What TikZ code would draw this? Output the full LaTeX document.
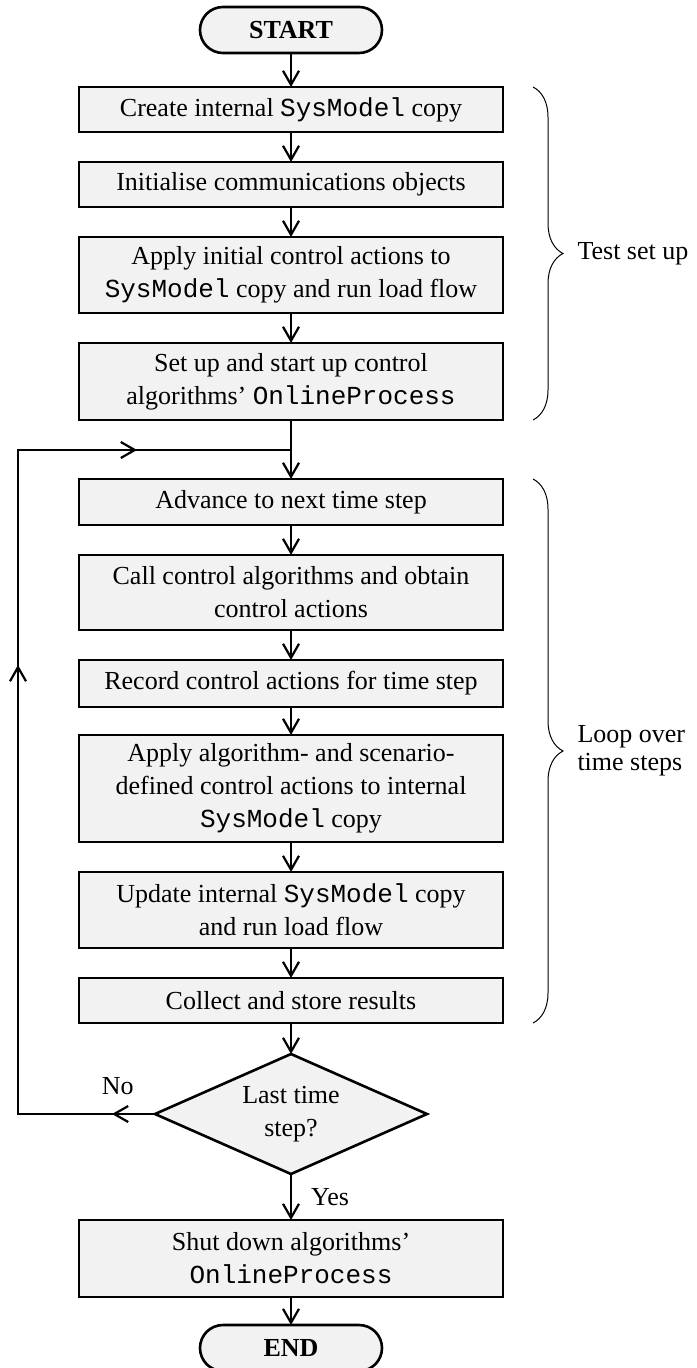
\documentclass[tikz,border=0pt]{standalone}
\usepackage{fontspec}
\setmainfont{Liberation Serif}
\setmonofont{Liberation Mono}
\usepackage{tikz}
\usetikzlibrary{positioning, arrows.meta, shapes.geometric, decorations.pathreplacing, decorations.markings}
\definecolor{boxgray}{HTML}{F2F2F2}
\tikzset{
process/.style={shape=rectangle, draw, line width=1.3pt, fill=boxgray, minimum width=212pt, minimum height=22.5pt, inner sep=2pt, outer sep=0pt, align=center, font=\fontsize{13}{16.5}\selectfont}, terminal/.style={process, rounded corners=11.5pt, minimum width=91pt, minimum height=23pt, font=\fontsize{13}{16.5}\selectfont\bfseries}, decision/.style={diamond, draw, line width=1.3pt, fill=boxgray, aspect=2.27, minimum width=136pt, minimum height=60pt, inner sep=0pt, outer sep=0pt, align=center, font=\fontsize{13}{16.5}\selectfont},
flow/.style={line width=1.1pt, -{Straight Barb[length=7pt, width=8pt]}}, textlabel/.style={inner sep=0pt, align=left, font=\fontsize{13}{14}\selectfont}, grouping/.style={decorate, decoration={brace, amplitude=15pt}, line width=0.5pt}}

\begin{document}
\begin{tikzpicture}
\useasboundingbox (0,0) rectangle (348pt,-684pt);
\node [terminal] at (145.5pt, -15pt) (start) {START};
\node [process, below=17pt of start] (copy) {Create internal \texttt{SysModel} copy};
\node [process, below=15pt of copy] (comms) {Initialise communications objects};
\node [process, minimum height=38pt, below=15pt of comms] (initial) {Apply initial control actions to\\\texttt{SysModel} copy and run load flow};
\node [process, minimum height=38.5pt, below=15pt of initial] (setup) {Set up and start up control\\algorithms' \texttt{OnlineProcess}};
\coordinate [below=15pt of setup] (join);
\node [process, minimum height=23pt, below=29.5pt of setup] (advance) {Advance to next time step};
\node [process, minimum height=37.5pt, below=15pt of advance] (call) {Call control algorithms and obtain\\control actions};
\node [process, minimum height=23.5pt, below=15pt of call] (record) {Record control actions for time step};
\node [process, minimum height=53.5pt, below=14pt of record] (apply) {Apply algorithm- and scenario-\\defined control actions to internal\\\texttt{SysModel} copy};
\node [process, minimum height=38pt, below=15pt of apply] (update) {Update internal \texttt{SysModel} copy\\and run load flow};
\node [process, below=15pt of update] (collect) {Collect and store results};
\node [decision, below=15.5pt of collect] (last) {Last time\\step?};
\node [process, minimum height=38.5pt, below=23pt of last] (shutdown) {Shut down algorithms'\\\texttt{OnlineProcess}};
\node [terminal, below=14pt of shutdown] (end) {END};

% main flow
\draw [flow] (start) -- (copy);
\draw [flow] (copy) -- (comms);
\draw [flow] (comms) -- (initial);
\draw [flow] (initial) -- (setup);
\draw [flow] (setup) -- (advance);
\draw [flow] (advance) -- (call);
\draw [flow] (call) -- (record);
\draw [flow] (record) -- (apply);
\draw [flow] (apply) -- (update);
\draw [flow] (update) -- (collect);
\draw [flow] (collect) -- (last);
\draw [flow] (last) -- node [textlabel, right=9.5pt] (yes) {Yes} (shutdown);
\draw [flow] (shutdown) -- (end);

% loop back
\coordinate (loopx) at (9pt, 0);
\draw [line width=1.1pt, postaction={decorate}, decoration={markings,
    mark=at position 21.5pt with {\arrow{Straight Barb[length=7pt, width=8pt]}},
    mark=at position 293pt with {\arrow{Straight Barb[length=7pt, width=8pt]}},
    mark=at position 460pt with {\arrow{Straight Barb[length=7pt, width=8pt]}}}]
  (last.west) -- (last.west -| loopx) -- (join -| loopx) -- (join);
\node [textlabel, above left=9.5pt and 10.5pt of last.west] (no) {No};

% groups
\draw [grouping] ([xshift=15pt]copy.north east) -- node [textlabel, right=22pt] (setuplabel) {Test set up} ([xshift=15pt]setup.south east);
\draw [grouping] ([xshift=15pt]advance.north east) -- node [textlabel, right=22pt] (looplabel) {Loop over\\time steps} ([xshift=15pt]collect.south east);
\end{tikzpicture}
\end{document}
